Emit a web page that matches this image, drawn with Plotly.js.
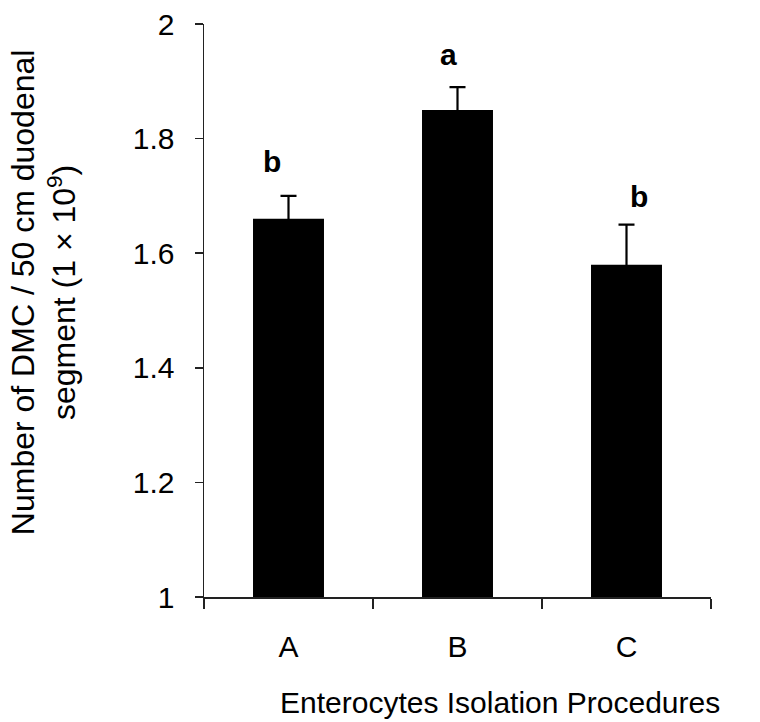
<!DOCTYPE html>
<html>
<head>
<meta charset="utf-8">
<script src="https://cdn.plot.ly/plotly-3.0.1.min.js"></script>
<style>
  html, body { margin: 0; padding: 0; background: #fff; }
  #chart { width: 760px; height: 722px; }
</style>
</head>
<body>
<div id="chart"></div>
<script>
// Data
const categories = ["A", "B", "C"];
const means = [1.66, 1.85, 1.58];
const errorsUp = [0.04, 0.04, 0.07];
const sigLetters = ["b", "a", "b"];
const letterY = [1.76, 1.947, 1.699];
const yTickVals = [1, 1.2, 1.4, 1.6, 1.8, 2];
const yTickText = ["1", "1.2", "1.4", "1.6", "1.8", "2"];

const FONT = "Liberation Sans, Arial, Helvetica, sans-serif";
const letterShift = [-17, -9, 12];

const trace = {
  type: "bar",
  x: categories,
  y: means,
  marker: { color: "#000000", line: { width: 0 } },
  error_y: {
    type: "data",
    array: errorsUp,
    symmetric: true,
    visible: true,
    color: "#000000",
    thickness: 2.2,
    width: 8
  },
  hoverinfo: "skip"
};

const annotations = categories.map((c, i) => ({
  x: c, y: letterY[i], xref: "x", yref: "y",
  text: sigLetters[i], showarrow: false,
  xshift: letterShift[i],
  xanchor: "center", yanchor: "middle",
  font: { family: FONT, size: 30, color: "#000", weight: "bold" }
}));

annotations.push({
  xref: "paper", yref: "paper", x: 0.584, y: 0,
  yshift: -105, xanchor: "center", yanchor: "middle",
  text: "Enterocytes Isolation Procedures", showarrow: false,
  font: { family: FONT, size: 30, color: "#000" }
});

annotations.push({
  xref: "paper", yref: "paper", x: 0, y: 0.532,
  xshift: -160, xanchor: "center", yanchor: "middle",
  textangle: -90,
  text: "Number of DMC / 50 cm duodenal<br>segment (1 × 10<sup>9</sup>)",
  showarrow: false,
  font: { family: FONT, size: 32, color: "#000" }
});

const layout = {
  width: 760, height: 722,
  margin: { l: 204, r: 49, t: 24, b: 125, pad: 0 },
  paper_bgcolor: "#ffffff",
  plot_bgcolor: "#ffffff",
  showlegend: false,
  bargap: 0.58,
  font: { family: FONT, color: "#000" },
  xaxis: {
    type: "category",
    showline: true, linecolor: "#222", linewidth: 1.5,
    ticks: "outside", tickson: "boundaries", ticklen: 10, tickwidth: 1.5, tickcolor: "#222",
    tickfont: { family: FONT, size: 30, color: "#000" },
    showgrid: false, zeroline: false,
    ticklabelstandoff: 22
  },
  yaxis: {
    range: [1, 2], autorange: false,
    tickvals: yTickVals, ticktext: yTickText,
    showline: true, linecolor: "#222", linewidth: 1.5,
    ticks: "outside", ticklen: 8, tickwidth: 1.5, tickcolor: "#222",
    tickfont: { family: FONT, size: 30, color: "#000" },
    showgrid: false, zeroline: false,
    ticklabelstandoff: 14
  },
  annotations: annotations
};

Plotly.newPlot("chart", [trace], layout, { staticPlot: true, displayModeBar: false });
</script>
</body>
</html>
